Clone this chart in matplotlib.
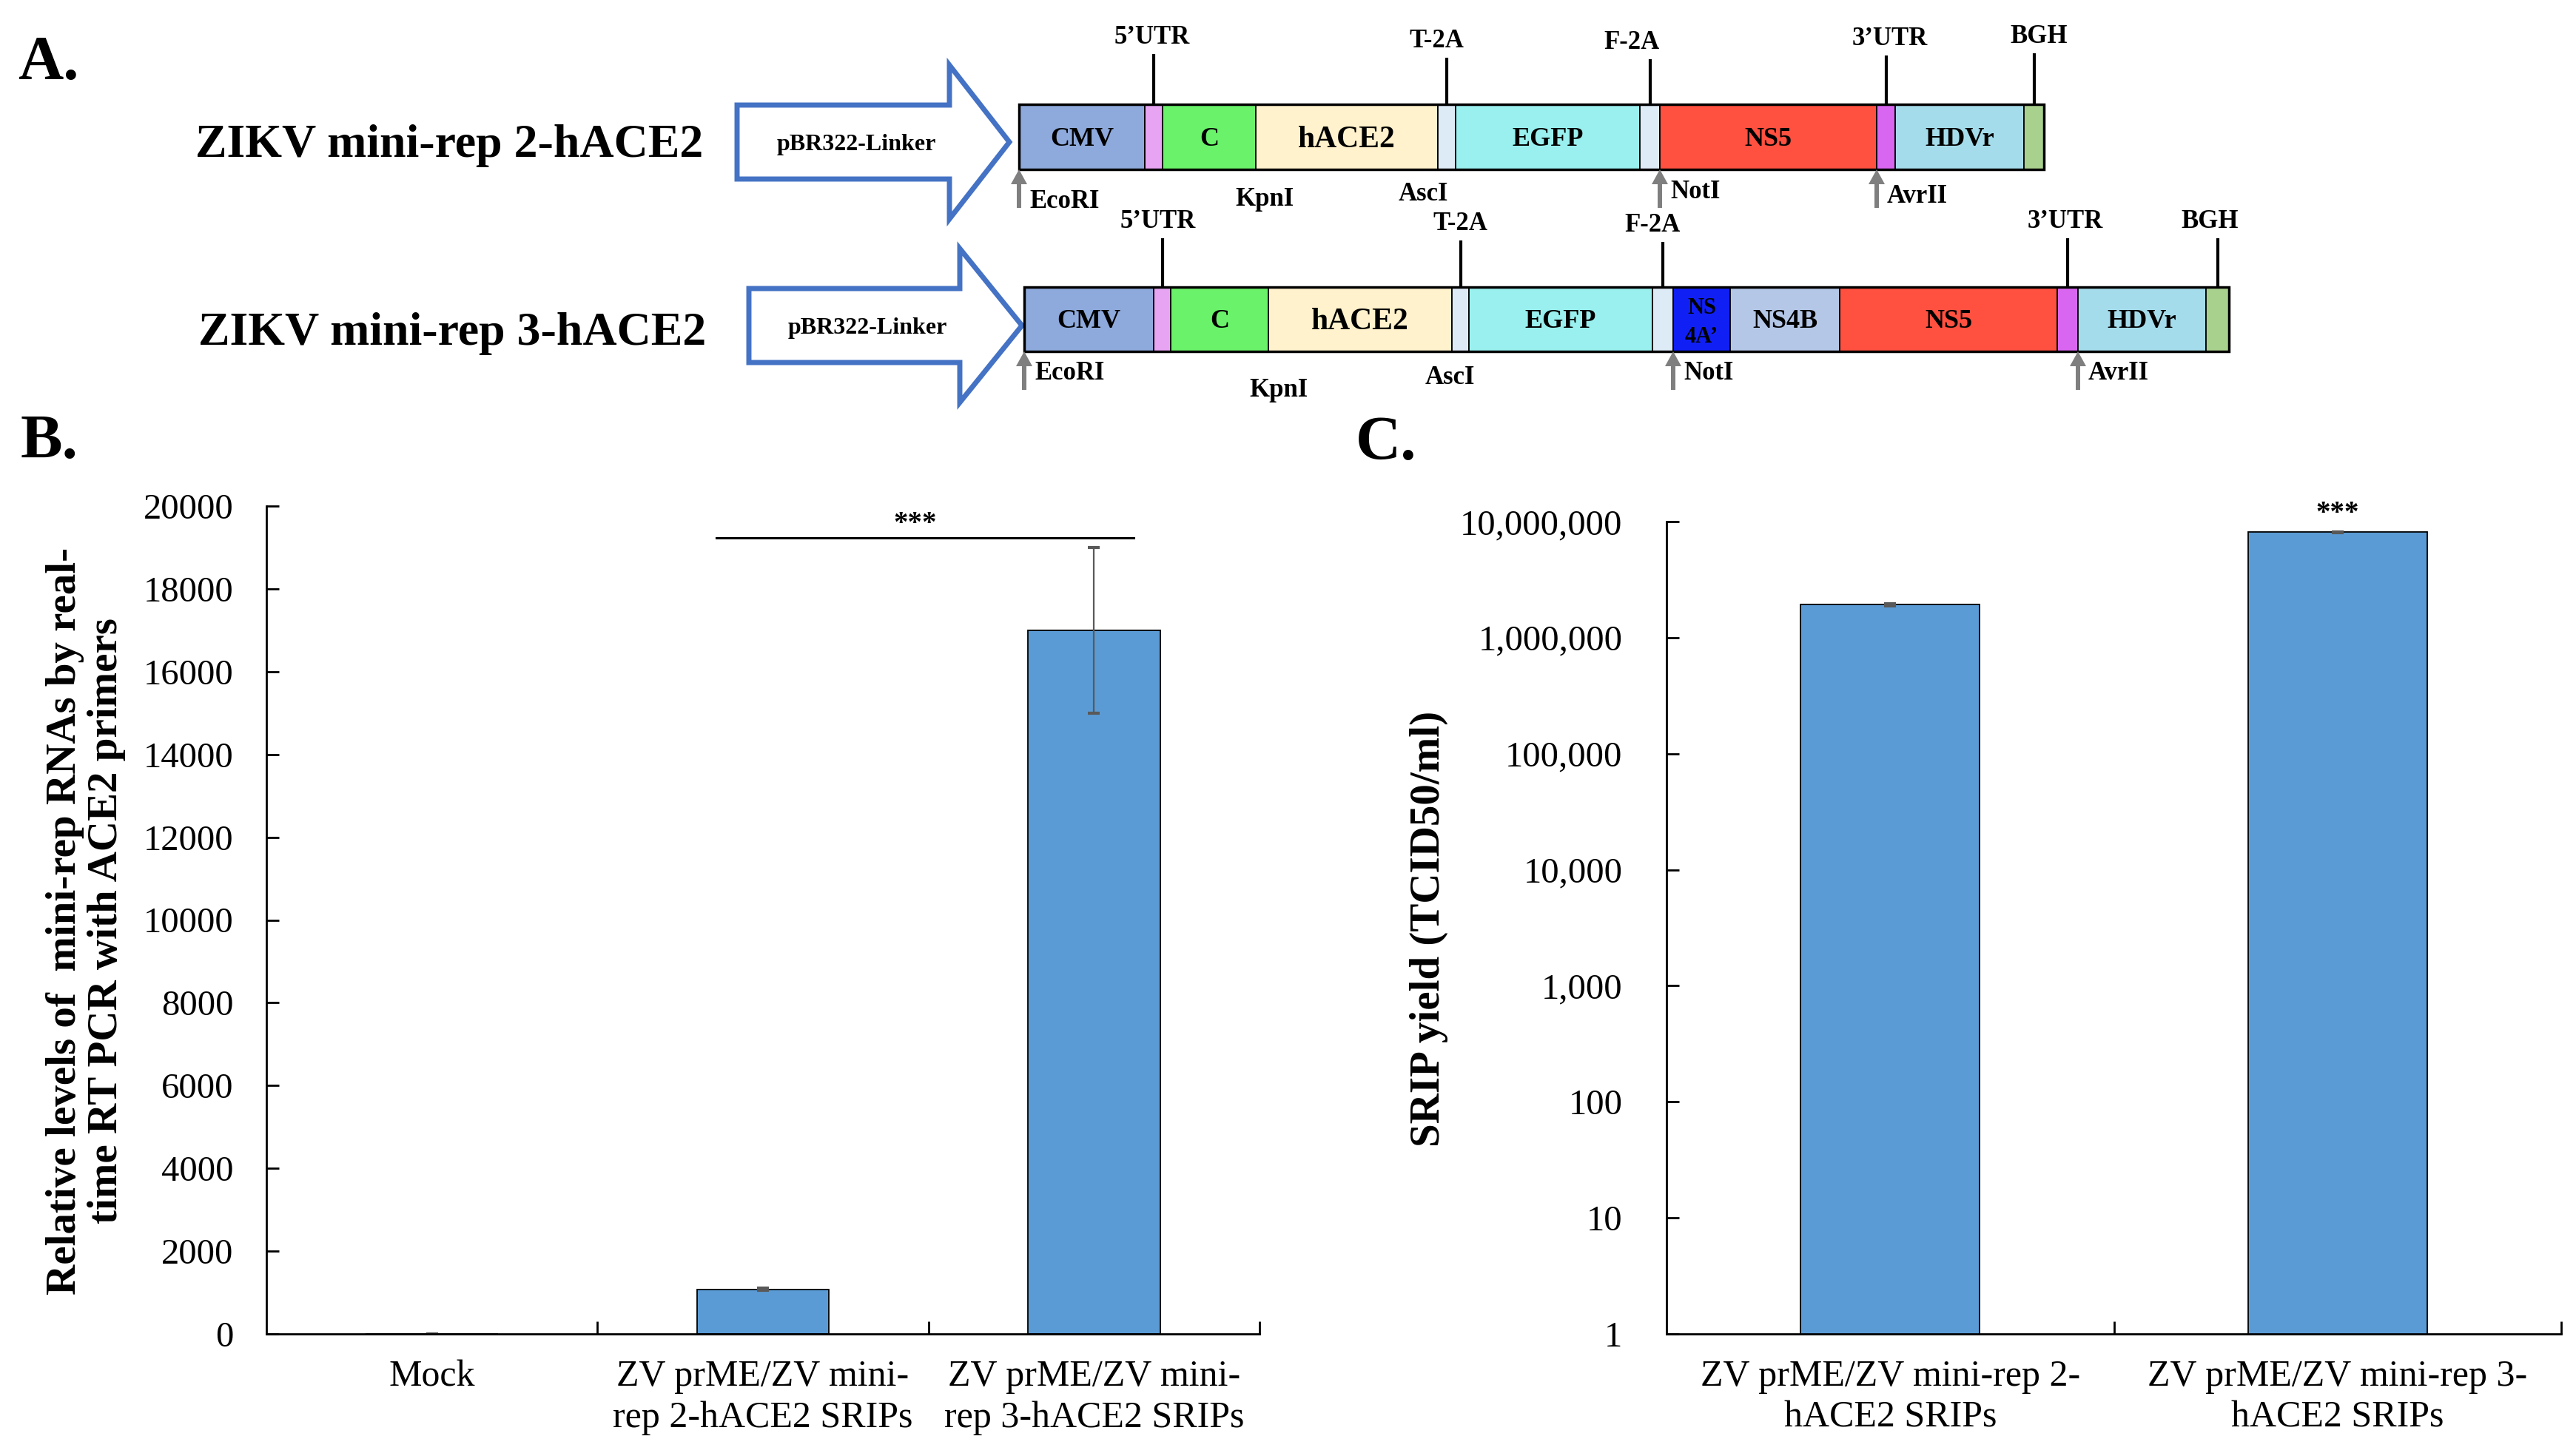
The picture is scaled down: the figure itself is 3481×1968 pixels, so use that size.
import matplotlib
matplotlib.use('Agg')
import matplotlib.pyplot as plt
import matplotlib.patches as mpatches
from matplotlib.ticker import FixedLocator, NullLocator

plt.rcParams['font.family'] = ['Liberation Serif', 'DejaVu Serif']

# ---------------- panel A: construct maps ----------------
row1_title = 'ZIKV mini-rep 2-hACE2'
row1_parts = ['CMV', '', 'C', 'hACE2', '', 'EGFP', '', 'NS5', '', 'HDVr', '']
row1_widths = [170, 24, 126, 246, 24, 249, 27, 293, 25, 174, 27]
row1_colors = ['#8EA9DB', '#E6A4F2', '#6AF26A', '#FFF2CC', '#DDEBF7', '#99F0EE',
               '#DDEBF7', '#FF5040', '#D966F0', '#A5DCEB', '#A9D18E']
row1_marks = ["5\u2019UTR", 'T-2A', 'F-2A', "3\u2019UTR", 'BGH']
row1_mark_seg = [1, 4, 6, 8, 10]
row1_sites = ['EcoRI', 'KpnI', 'AscI', 'NotI', 'AvrII']
row1_site_edge = [0, 3, 4, 7, 8]

row2_title = 'ZIKV mini-rep 3-hACE2'
row2_parts = ['CMV', '', 'C', 'hACE2', '', 'EGFP', '', 'NS\n4A\u2019', 'NS4B', 'NS5', '', 'HDVr', '']
row2_widths = [175, 23, 132, 248, 23, 248, 28, 77, 148, 294, 28, 173, 31]
row2_colors = ['#8EA9DB', '#E6A4F2', '#6AF26A', '#FFF2CC', '#DDEBF7', '#99F0EE',
               '#DDEBF7', '#1020F5', '#B4C7E7', '#FF5040', '#D966F0', '#A5DCEB', '#A9D18E']
row2_marks = ["5\u2019UTR", 'T-2A', 'F-2A', "3\u2019UTR", 'BGH']
row2_mark_seg = [1, 4, 6, 10, 12]
row2_sites = ['EcoRI', 'KpnI', 'AscI', 'NotI', 'AvrII']
row2_site_edge = [0, 3, 4, 7, 11]

# ---------------- panel B ----------------
b_groups = ['Mock', 'ZV prME/ZV mini-\nrep 2-hACE2 SRIPs', 'ZV prME/ZV mini-\nrep 3-hACE2 SRIPs']
b_values = [0, 1080, 17000]
b_errors = [0, 30, 2000]
b_yticks = [0, 2000, 4000, 6000, 8000, 10000, 12000, 14000, 16000, 18000, 20000]
b_ylabel = 'Relative levels of  mini-rep RNAs by real-\ntime RT PCR with ACE2 primers'

# ---------------- panel C ----------------
c_groups = ['ZV prME/ZV mini-rep 2-\nhACE2 SRIPs', 'ZV prME/ZV mini-rep 3-\nhACE2 SRIPs']
c_values = [1.92e6, 8.1e6]
c_errors = [4e4, 1e5]
c_yticks = [1, 10, 100, 1000, 10000, 100000, 1000000, 10000000]
c_ylabel = 'SRIP yield (TCID50/ml)'

W, H = 3481, 1968
fig = plt.figure(figsize=(W / 100, H / 100), dpi=100)

# overlay in pixel units for the diagram and free text
ov = fig.add_axes([0, 0, 1, 1])
ov.set_xlim(0, W)
ov.set_ylim(H, 0)
ov.axis('off')


def px(pt):
    return pt * 100 / 72


def ctext(x, yc, s, size, **kw):
    # vertically centre capitals on yc (y grows downward here)
    ov.text(x, yc + 0.33 * px(size), s, fontsize=size, va='baseline',
            fontweight='bold', **kw)


def big_arrow(x0, xh, xt, ym, body, head, label):
    pts = [(x0, ym - body), (xh, ym - body), (xh, ym - head), (xt, ym),
           (xh, ym + head), (xh, ym + body), (x0, ym + body)]
    ov.add_patch(mpatches.Polygon(pts, closed=True, facecolor='white',
                                  edgecolor='#4472C4', lw=5, joinstyle='miter'))
    ctext((x0 + xh) / 2 + 18, ym, label, 23, ha='center')


def construct(x0, top, h, parts, widths, colors, marks, mark_seg, mark_len,
              mark_dx, sites, site_edge, site_dx, site_dy, site_arrow):
    edges = [x0]
    for w in widths:
        edges.append(edges[-1] + w)
    for i, (name, w, c) in enumerate(zip(parts, widths, colors)):
        ov.add_patch(mpatches.Rectangle((edges[i], top), w, h, facecolor=c,
                                        edgecolor='black', lw=1.3))
        if name:
            size = 30 if name == 'hACE2' else (22 if '\n' in name else 26)
            if '\n' in name:
                a, b = name.split('\n')
                ctext(edges[i] + w / 2, top + h * 0.3, a, size, ha='center')
                ctext(edges[i] + w / 2, top + h * 0.75, b, size, ha='center')
            else:
                ctext(edges[i] + w / 2, top + h / 2, name, size, ha='center')
    ov.add_patch(mpatches.Rectangle((x0, top), edges[-1] - x0, h, fill=False,
                                    edgecolor='black', lw=2.5))
    # features above the map
    for name, s, ln, dx in zip(marks, mark_seg, mark_len, mark_dx):
        xm = (edges[s] + edges[s + 1]) / 2
        ov.plot([xm, xm], [top, top - ln], color='black', lw=3,
                solid_capstyle='butt')
        ov.text(xm + dx, top - ln - 14, name, fontsize=25, fontweight='bold',
                ha='center', va='baseline')
    # restriction sites below the map
    bottom = top + h
    for name, e, dx, dy, arr in zip(sites, site_edge, site_dx, site_dy, site_arrow):
        xs = edges[e]
        if arr:
            ov.arrow(xs, bottom + 52, 0, -52, width=6, head_width=22,
                     head_length=20, length_includes_head=True,
                     color='#7F7F7F', lw=0)
            ctext(xs + 14, bottom + dy, name, 25, ha='left')
        else:
            ctext(xs + dx, bottom + dy, name, 25, ha='center')


ov.text(24, 107, 'A.', fontsize=61, fontweight='bold', va='baseline')
ov.text(28, 619, 'B.', fontsize=61, fontweight='bold', va='baseline')
ov.text(1832, 621, 'C.', fontsize=61, fontweight='bold', va='baseline')

ov.text(607, 212, row1_title, fontsize=46, fontweight='bold', ha='center', va='baseline')
ov.text(611, 466, row2_title, fontsize=46, fontweight='bold', ha='center', va='baseline')

big_arrow(996, 1283, 1364, 192, 50, 104, 'pBR322-Linker')
big_arrow(1012, 1297, 1381, 440, 50, 104, 'pBR322-Linker')

construct(1377, 141, 88, row1_parts, row1_widths, row1_colors,
          row1_marks, row1_mark_seg, [68, 63, 61, 66, 69], [-2, -14, -25, 5, 7],
          row1_sites, row1_site_edge, [0, 12, -20, 0, 0], [41, 38, 31, 28, 34],
          [True, False, False, True, True])
construct(1384, 388, 87, row2_parts, row2_widths, row2_colors,
          row2_marks, row2_mark_seg, [66, 63, 61, 66, 66], [-6, 0, -14, -3, -10],
          row2_sites, row2_site_edge, [0, 14, -3, 0, 0], [27, 50, 33, 27, 27],
          [True, False, False, True, True])

ov.text(116, 1245, b_ylabel, fontsize=41, fontweight='bold', rotation=90,
        ha='center', va='center', multialignment='center', linespacing=1.08)
ov.text(1931, 1255, c_ylabel, fontsize=41, fontweight='bold', rotation=90,
        ha='center', va='center')


def pos(l, r, b, t):
    return [l / W, (H - b) / H, (r - l) / W, (b - t) / H]


def style(ax, pad_y):
    for s in ['top', 'right']:
        ax.spines[s].set_visible(False)
    for s in ['left', 'bottom']:
        ax.spines[s].set_linewidth(2)
    ax.patch.set_alpha(0)
    ax.tick_params(axis='y', direction='in', length=12, width=2,
                   labelsize=35, pad=pad_y)
    ax.tick_params(axis='x', which='major', length=0, labelsize=36, pad=25)
    ax.tick_params(axis='x', which='minor', direction='in', length=12, width=2)


bar_kw = dict(width=0.4, color='#5B9BD5', edgecolor='black', linewidth=1.3,
              error_kw=dict(ecolor='#595959', elinewidth=1.6, capsize=6, capthick=3))

# ---- B ----
axb = fig.add_axes(pos(360, 1702, 1803, 684))
axb.bar(range(len(b_groups)), b_values, yerr=b_errors, **bar_kw)
axb.set_xlim(-0.5, len(b_groups) - 0.5)
axb.set_ylim(0, 20000)
axb.set_yticks(b_yticks)
axb.set_xticks(range(len(b_groups)))
axb.set_xticklabels(b_groups, linespacing=1.25)
axb.xaxis.set_minor_locator(FixedLocator([0.5, 1.5, 2.5]))
style(axb, 32)
axb.plot([0.86, 2.12], [19230, 19230], color='black', lw=2.2, clip_on=False)
axb.text(1.46, 19400, '***', ha='center', va='baseline', fontsize=28, fontweight='bold')

# ---- C ----
axc = fig.add_axes(pos(2252, 3461, 1803, 705))
axc.bar(range(len(c_groups)), c_values, yerr=c_errors, **bar_kw)
axc.set_yscale('log')
axc.set_xlim(-0.5, len(c_groups) - 0.5)
axc.set_ylim(1, 1e7)
axc.yaxis.set_major_locator(FixedLocator(c_yticks))
axc.yaxis.set_minor_locator(NullLocator())
axc.set_yticklabels(['{:,}'.format(v) for v in c_yticks])
axc.set_xticks(range(len(c_groups)))
axc.set_xticklabels(c_groups, linespacing=1.25)
axc.xaxis.set_minor_locator(FixedLocator([0.5, 1.5]))
style(axc, 43)
axc.text(1.0, 1.02e7, '***', ha='center', va='baseline', fontsize=28, fontweight='bold')

fig.savefig('out.png', dpi=100, facecolor='white')
